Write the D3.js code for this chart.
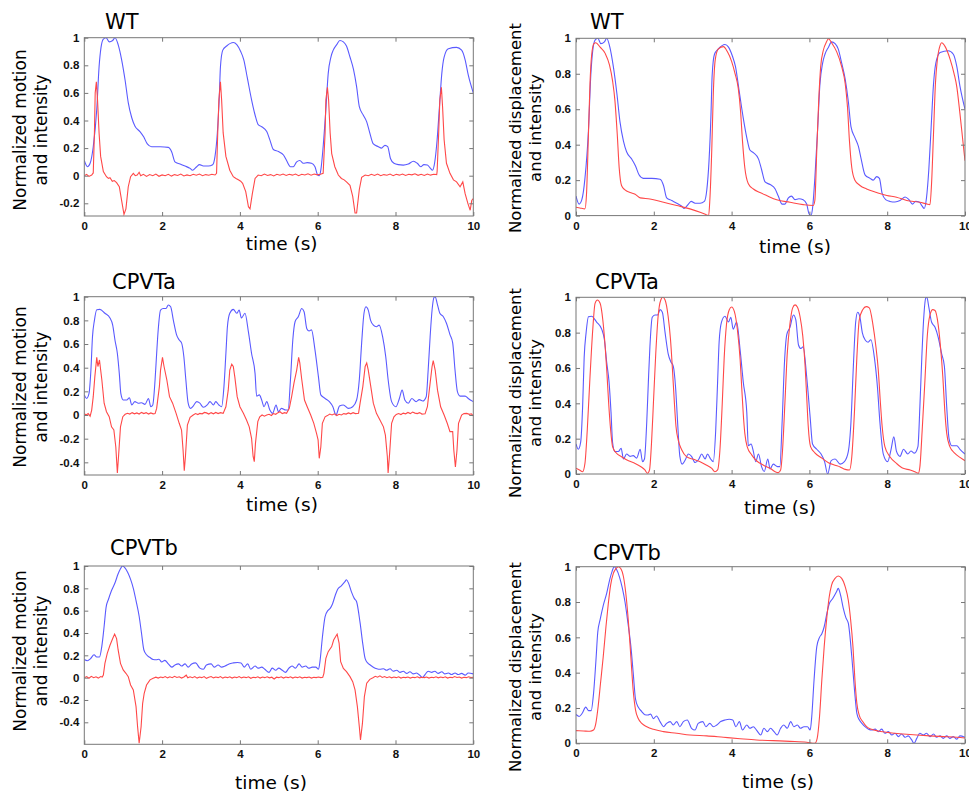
<!DOCTYPE html>
<html><head><meta charset="utf-8">
<script src="https://cdn.jsdelivr.net/npm/d3@7/dist/d3.min.js"></script>
<style>
html,body{margin:0;padding:0;background:#fff;}
svg{display:block;}
</style></head>
<body>
<script>
// ---------------- DATA ----------------
const timeTicks = [0, 2, 4, 6, 8, 10];
const yTicksWT = [-0.2, 0, 0.2, 0.4, 0.6, 0.8, 1];
const yTicksCPVT = [-0.4, -0.2, 0, 0.2, 0.4, 0.6, 0.8, 1];
const yTicksPos = [0, 0.2, 0.4, 0.6, 0.8, 1];
const titles = ["WT", "CPVTa", "CPVTb"];

// blue: normalized motion / displacement (same trace on left and right)
const wtMotion = [[0,0.11],[0.08,0.065],[0.15,0.09],[0.23,0.21],[0.32,0.48],[0.38,0.79],[0.43,0.93],[0.49,0.99],[0.56,1.0],[0.64,0.97],[0.73,0.98],[0.79,1.0],[0.87,0.95],[0.96,0.84],[1.05,0.69],[1.13,0.53],[1.22,0.42],[1.3,0.36],[1.43,0.32],[1.53,0.28],[1.62,0.23],[1.73,0.21],[1.95,0.21],[2.16,0.205],[2.25,0.17],[2.33,0.1],[2.46,0.085],[2.59,0.07],[2.72,0.053],[2.78,0.04],[2.89,0.065],[2.96,0.08],[3.06,0.07],[3.19,0.07],[3.3,0.08],[3.36,0.14],[3.42,0.31],[3.47,0.57],[3.5,0.79],[3.56,0.91],[3.66,0.94],[3.83,0.965],[3.92,0.95],[4.02,0.9],[4.1,0.84],[4.19,0.71],[4.3,0.55],[4.39,0.44],[4.47,0.37],[4.56,0.355],[4.69,0.32],[4.77,0.26],[4.86,0.19],[4.99,0.175],[5.12,0.15],[5.2,0.11],[5.3,0.065],[5.37,0.065],[5.46,0.1],[5.54,0.11],[5.63,0.09],[5.73,0.095],[5.84,0.09],[5.93,0.065],[5.99,0.01],[6.04,0.0],[6.08,0.04],[6.14,0.21],[6.21,0.48],[6.27,0.74],[6.34,0.86],[6.4,0.91],[6.49,0.95],[6.57,0.98],[6.66,0.97],[6.74,0.94],[6.83,0.86],[6.92,0.77],[7.0,0.645],[7.07,0.5],[7.17,0.44],[7.26,0.39],[7.33,0.32],[7.43,0.23],[7.56,0.21],[7.64,0.2],[7.73,0.22],[7.8,0.21],[7.87,0.125],[7.96,0.09],[8.07,0.08],[8.2,0.077],[8.33,0.085],[8.46,0.105],[8.56,0.09],[8.65,0.065],[8.73,0.08],[8.82,0.077],[8.9,0.053],[8.95,0.04],[9.01,0.1],[9.07,0.26],[9.13,0.5],[9.19,0.74],[9.25,0.86],[9.36,0.92],[9.57,0.93],[9.7,0.91],[9.79,0.84],[9.87,0.73],[10,0.6]];

const cpvtaMotion = [[0,0.17],[0.06,0.14],[0.12,0.18],[0.17,0.38],[0.21,0.66],[0.26,0.8],[0.32,0.89],[0.4,0.893],[0.53,0.86],[0.66,0.82],[0.73,0.76],[0.79,0.63],[0.85,0.52],[0.9,0.35],[0.94,0.18],[1.0,0.127],[1.09,0.127],[1.16,0.146],[1.22,0.085],[1.3,0.113],[1.39,0.1],[1.47,0.104],[1.56,0.09],[1.65,0.14],[1.71,0.07],[1.76,0.085],[1.82,0.3],[1.86,0.52],[1.9,0.72],[1.96,0.887],[2.03,0.9],[2.1,0.9],[2.16,0.93],[2.22,0.915],[2.29,0.8],[2.37,0.68],[2.44,0.634],[2.5,0.61],[2.56,0.49],[2.61,0.3],[2.67,0.1],[2.73,0.056],[2.8,0.076],[2.89,0.113],[2.97,0.1],[3.06,0.065],[3.16,0.085],[3.23,0.113],[3.32,0.085],[3.38,0.113],[3.46,0.085],[3.53,0.07],[3.59,0.24],[3.64,0.52],[3.68,0.75],[3.74,0.86],[3.83,0.893],[3.92,0.86],[3.98,0.887],[4.04,0.82],[4.13,0.86],[4.22,0.7],[4.3,0.52],[4.39,0.35],[4.43,0.16],[4.5,0.17],[4.56,0.127],[4.62,0.07],[4.69,0.113],[4.77,0.042],[4.84,0.014],[4.93,0.085],[4.99,0.028],[5.07,0.056],[5.18,0.042],[5.24,0.042],[5.3,0.3],[5.36,0.634],[5.42,0.79],[5.5,0.83],[5.59,0.9],[5.65,0.873],[5.72,0.73],[5.78,0.71],[5.84,0.72],[5.93,0.55],[6.02,0.32],[6.08,0.17],[6.19,0.14],[6.3,0.113],[6.39,0.07],[6.47,0.0],[6.56,0.076],[6.66,0.085],[6.79,0.056],[6.9,0.07],[7.0,0.127],[7.07,0.3],[7.13,0.61],[7.19,0.86],[7.24,0.915],[7.3,0.887],[7.36,0.8],[7.43,0.76],[7.51,0.746],[7.58,0.76],[7.67,0.66],[7.75,0.49],[7.81,0.3],[7.9,0.113],[8.01,0.07],[8.1,0.14],[8.17,0.21],[8.24,0.127],[8.33,0.1],[8.42,0.14],[8.53,0.113],[8.61,0.13],[8.7,0.118],[8.79,0.155],[8.84,0.38],[8.89,0.66],[8.94,0.887],[8.99,0.995],[9.02,1.0],[9.07,0.944],[9.14,0.86],[9.23,0.83],[9.31,0.775],[9.4,0.68],[9.47,0.61],[9.53,0.38],[9.59,0.2],[9.66,0.16],[9.79,0.16],[9.87,0.14],[10,0.113]];

const cpvtbMotion = [[0,0.163],[0.08,0.152],[0.16,0.17],[0.25,0.205],[0.32,0.185],[0.39,0.185],[0.45,0.28],[0.51,0.46],[0.56,0.63],[0.62,0.7],[0.7,0.78],[0.79,0.85],[0.87,0.93],[0.93,0.975],[0.98,1.0],[1.04,0.985],[1.12,0.94],[1.19,0.88],[1.26,0.8],[1.33,0.69],[1.41,0.55],[1.47,0.4],[1.53,0.25],[1.6,0.205],[1.69,0.18],[1.77,0.162],[1.85,0.16],[1.92,0.165],[1.99,0.14],[2.07,0.155],[2.16,0.123],[2.25,0.094],[2.33,0.113],[2.42,0.123],[2.5,0.104],[2.59,0.123],[2.67,0.094],[2.76,0.123],[2.86,0.132],[2.97,0.085],[3.06,0.075],[3.14,0.113],[3.26,0.123],[3.34,0.094],[3.44,0.113],[3.53,0.094],[3.62,0.104],[3.72,0.123],[3.83,0.132],[3.94,0.136],[4.03,0.132],[4.11,0.094],[4.2,0.123],[4.28,0.075],[4.39,0.104],[4.47,0.085],[4.56,0.094],[4.64,0.075],[4.75,0.047],[4.83,0.085],[4.92,0.066],[5.0,0.085],[5.09,0.066],[5.17,0.047],[5.26,0.085],[5.34,0.104],[5.43,0.085],[5.52,0.123],[5.6,0.094],[5.69,0.104],[5.77,0.085],[5.86,0.094],[5.95,0.094],[6.02,0.075],[6.06,0.15],[6.12,0.36],[6.19,0.547],[6.26,0.6],[6.32,0.62],[6.38,0.66],[6.45,0.736],[6.51,0.79],[6.6,0.82],[6.7,0.86],[6.74,0.877],[6.8,0.84],[6.87,0.766],[6.94,0.71],[7.0,0.68],[7.09,0.49],[7.16,0.3],[7.22,0.17],[7.29,0.13],[7.35,0.113],[7.43,0.094],[7.52,0.08],[7.6,0.075],[7.69,0.08],[7.77,0.066],[7.86,0.08],[7.94,0.057],[8.03,0.066],[8.12,0.047],[8.2,0.057],[8.29,0.038],[8.37,0.053],[8.46,0.034],[8.54,0.042],[8.63,0.019],[8.69,0.0],[8.76,0.028],[8.84,0.057],[8.93,0.047],[9.01,0.057],[9.1,0.038],[9.19,0.053],[9.27,0.034],[9.36,0.042],[9.44,0.028],[9.53,0.042],[9.61,0.028],[9.7,0.038],[9.79,0.023],[9.87,0.042],[10,0.034]];

// red, left column: rate of change of calcium intensity
const wtIntensityRate = [[0,0.0],[0.06,0.01],[0.12,-0.005],[0.19,0.005],[0.23,0.02],[0.26,0.31],[0.28,0.6],[0.31,0.68],[0.34,0.55],[0.38,0.31],[0.42,0.14],[0.49,0.03],[0.57,-0.007],[0.62,-0.02],[0.66,-0.015],[0.72,-0.04],[0.77,-0.035],[0.83,-0.05],[0.9,-0.08],[0.96,-0.18],[1.02,-0.28],[1.07,-0.24],[1.13,-0.08],[1.19,-0.007],[1.26,0.017],[1.31,0.0],[1.36,0.005],[1.41,0.025],[1.45,0.0],[1.52,0.01],[1.6,-0.005],[1.68,0.008],[1.76,0.0],[1.84,0.012],[1.92,-0.004],[2.0,0.006],[2.08,0.0],[2.16,0.01],[2.24,-0.003],[2.32,0.008],[2.4,0.002],[2.48,0.012],[2.56,-0.002],[2.64,0.006],[2.72,0.0],[2.8,0.01],[2.88,0.003],[2.96,0.012],[3.04,0.0],[3.12,0.008],[3.2,0.003],[3.28,0.01],[3.36,0.005],[3.4,0.017],[3.43,0.31],[3.46,0.55],[3.5,0.68],[3.53,0.55],[3.57,0.31],[3.64,0.14],[3.74,0.04],[3.83,-0.007],[3.9,-0.02],[3.96,-0.03],[4.02,-0.04],[4.07,-0.055],[4.15,-0.115],[4.22,-0.225],[4.26,-0.24],[4.32,-0.13],[4.39,-0.02],[4.47,0.005],[4.55,0.0],[4.63,0.012],[4.71,0.002],[4.79,0.008],[4.87,-0.002],[4.95,0.01],[5.03,0.003],[5.11,0.012],[5.19,0.002],[5.27,0.01],[5.35,0.004],[5.43,0.012],[5.51,0.0],[5.59,0.01],[5.67,0.005],[5.75,0.014],[5.83,0.004],[5.91,0.012],[5.99,0.006],[6.07,0.01],[6.14,0.017],[6.19,0.31],[6.21,0.55],[6.25,0.64],[6.28,0.55],[6.32,0.31],[6.36,0.16],[6.44,0.065],[6.53,0.005],[6.61,-0.02],[6.68,-0.03],[6.74,-0.045],[6.83,-0.07],[6.9,-0.15],[6.96,-0.27],[7.0,-0.27],[7.07,-0.1],[7.13,-0.012],[7.22,0.005],[7.3,0.0],[7.38,0.01],[7.46,0.002],[7.54,0.012],[7.62,0.0],[7.7,0.008],[7.78,0.003],[7.86,0.012],[7.94,0.0],[8.02,0.01],[8.1,0.004],[8.18,0.012],[8.26,0.002],[8.34,0.01],[8.42,0.006],[8.5,0.014],[8.58,0.003],[8.66,0.01],[8.74,0.002],[8.82,0.012],[8.9,0.004],[8.98,0.01],[9.06,0.008],[9.07,0.03],[9.11,0.31],[9.14,0.55],[9.18,0.64],[9.21,0.5],[9.25,0.26],[9.31,0.09],[9.4,0.017],[9.49,-0.03],[9.57,-0.045],[9.66,-0.08],[9.73,-0.045],[9.79,-0.13],[9.86,-0.2],[9.92,-0.25],[9.96,-0.18],[10,-0.165]];

const cpvtaIntensityRate = [[0,0.01],[0.05,0],[0.1,0.012],[0.15,-0.01],[0.19,0.042],[0.23,0.155],[0.27,0.32],[0.32,0.487],[0.35,0.41],[0.39,0.465],[0.45,0.3],[0.51,0.1],[0.57,0.028],[0.64,-0.014],[0.7,-0.1],[0.76,-0.127],[0.81,-0.27],[0.85,-0.49],[0.88,-0.35],[0.93,-0.1],[0.99,-0.014],[1.05,0.006],[1.11,0.015],[1.17,0.008],[1.23,0.02],[1.29,0.01],[1.35,0.018],[1.41,0.008],[1.47,0.022],[1.53,0.012],[1.59,0.02],[1.65,0.008],[1.71,0.018],[1.77,0.01],[1.82,0.012],[1.86,0.056],[1.93,0.24],[1.96,0.38],[2.01,0.487],[2.05,0.41],[2.12,0.3],[2.19,0.155],[2.27,0.1],[2.36,0.014],[2.44,-0.07],[2.5,-0.127],[2.54,-0.3],[2.57,-0.47],[2.6,-0.35],[2.65,-0.085],[2.72,-0.02],[2.8,0.0],[2.86,0.012],[2.92,0.004],[2.97,0.014],[3.03,0.01],[3.09,0.022],[3.14,0.018],[3.2,0.008],[3.26,0.02],[3.32,0.01],[3.38,0.022],[3.44,0.012],[3.5,0.02],[3.57,0.014],[3.64,0.07],[3.7,0.21],[3.74,0.38],[3.79,0.43],[3.83,0.41],[3.87,0.32],[3.93,0.155],[4.0,0.07],[4.09,0.014],[4.17,-0.042],[4.24,-0.1],[4.3,-0.197],[4.34,-0.35],[4.37,-0.394],[4.4,-0.24],[4.46,-0.056],[4.51,-0.015],[4.57,0.0],[4.63,-0.01],[4.69,0.0],[4.75,0.006],[4.81,-0.004],[4.86,0.012],[4.92,0.006],[4.98,0.02],[5.03,0.028],[5.09,0.012],[5.15,0.02],[5.2,0.014],[5.27,0.056],[5.33,0.155],[5.39,0.27],[5.46,0.38],[5.51,0.487],[5.54,0.44],[5.59,0.3],[5.66,0.127],[5.73,0.07],[5.82,0.0],[5.9,-0.07],[5.97,-0.155],[6.01,-0.21],[6.04,-0.366],[6.08,-0.27],[6.12,-0.07],[6.19,-0.015],[6.25,-0.005],[6.31,0.008],[6.37,0.0],[6.43,0.01],[6.49,-0.004],[6.55,0.006],[6.61,0.0],[6.67,0.012],[6.73,0.008],[6.79,0.018],[6.85,0.01],[6.91,0.02],[6.97,0.012],[7.05,0.014],[7.09,0.1],[7.16,0.24],[7.22,0.41],[7.26,0.44],[7.3,0.38],[7.36,0.25],[7.43,0.1],[7.51,0.014],[7.6,-0.042],[7.69,-0.1],[7.74,-0.17],[7.79,-0.35],[7.81,-0.49],[7.85,-0.32],[7.9,-0.07],[7.96,-0.015],[8.02,0.005],[8.08,0.012],[8.14,0.004],[8.2,0.016],[8.26,0.01],[8.32,0.022],[8.38,0.012],[8.44,0.025],[8.5,0.016],[8.56,0.012],[8.62,0.02],[8.68,0.008],[8.76,0.01],[8.82,0.07],[8.89,0.27],[8.94,0.41],[8.97,0.46],[9.02,0.38],[9.08,0.21],[9.16,0.07],[9.25,0.0],[9.33,-0.07],[9.4,-0.14],[9.47,-0.14],[9.5,-0.3],[9.54,-0.44],[9.58,-0.3],[9.62,-0.07],[9.7,0.0],[9.76,0.012],[9.83,0.014],[9.9,0.006],[9.95,0.01],[10,-0.008]];

const cpvtbIntensityRate = [[0,0],[0.06,0.01],[0.12,-0.005],[0.18,0.012],[0.24,0.0],[0.3,0.008],[0.36,-0.004],[0.42,0.01],[0.46,0.005],[0.49,0.024],[0.53,0.128],[0.59,0.218],[0.66,0.29],[0.73,0.35],[0.78,0.39],[0.83,0.35],[0.87,0.248],[0.93,0.128],[1.0,0.069],[1.07,0.039],[1.13,0.009],[1.19,-0.066],[1.26,-0.11],[1.33,-0.26],[1.37,-0.44],[1.41,-0.588],[1.46,-0.44],[1.5,-0.23],[1.54,-0.14],[1.6,-0.066],[1.69,-0.02],[1.77,-0.006],[1.84,0.004],[1.9,-0.004],[1.96,0.006],[2.02,0.0],[2.08,0.01],[2.14,-0.002],[2.2,0.008],[2.26,0.0],[2.32,0.012],[2.38,0.002],[2.44,0.008],[2.5,-0.004],[2.56,0.006],[2.62,0.022],[2.66,-0.002],[2.72,0.008],[2.78,0.0],[2.84,0.01],[2.9,-0.004],[2.96,0.006],[3.02,0.0],[3.08,0.01],[3.14,-0.006],[3.2,0.004],[3.26,0.01],[3.32,-0.002],[3.38,0.006],[3.44,0.0],[3.5,0.01],[3.56,-0.004],[3.62,0.006],[3.68,0.0],[3.74,0.008],[3.8,-0.004],[3.86,0.006],[3.92,0.0],[3.98,0.01],[4.04,-0.002],[4.1,0.006],[4.16,0.0],[4.22,0.008],[4.28,-0.006],[4.34,0.004],[4.4,0.0],[4.46,0.008],[4.52,-0.004],[4.58,0.006],[4.64,0.0],[4.7,0.008],[4.76,-0.002],[4.82,0.004],[4.88,-0.012],[4.94,0.004],[5.0,0.0],[5.06,0.008],[5.12,-0.004],[5.18,0.006],[5.24,0.0],[5.3,0.008],[5.36,-0.004],[5.42,0.006],[5.48,0.0],[5.54,0.008],[5.6,-0.004],[5.66,0.004],[5.72,0.0],[5.78,0.006],[5.84,-0.004],[5.9,0.004],[5.96,0.0],[6.02,0.006],[6.08,0.0],[6.13,0.004],[6.16,0.039],[6.21,0.173],[6.27,0.233],[6.36,0.278],[6.41,0.337],[6.47,0.373],[6.5,0.39],[6.55,0.31],[6.59,0.143],[6.66,0.083],[6.74,0.054],[6.83,0.009],[6.9,-0.036],[6.96,-0.11],[7.02,-0.26],[7.07,-0.44],[7.1,-0.558],[7.15,-0.41],[7.2,-0.17],[7.26,-0.05],[7.34,-0.015],[7.42,0.0],[7.48,0.012],[7.54,0.004],[7.6,0.016],[7.66,0.002],[7.72,0.01],[7.78,0.0],[7.84,0.008],[7.9,-0.002],[7.96,0.006],[8.02,0.0],[8.08,0.008],[8.14,-0.004],[8.2,0.004],[8.26,0.0],[8.32,0.006],[8.38,-0.004],[8.44,0.004],[8.5,0.0],[8.56,0.008],[8.62,-0.002],[8.68,0.004],[8.74,0.0],[8.8,0.006],[8.86,-0.004],[8.92,0.004],[8.98,0.0],[9.04,0.008],[9.1,-0.002],[9.16,0.006],[9.22,0.0],[9.28,0.008],[9.34,-0.004],[9.4,0.004],[9.46,0.0],[9.52,0.01],[9.58,0.002],[9.64,0.006],[9.7,-0.004],[9.76,0.004],[9.82,0.0],[9.88,0.008],[9.94,0.002],[10,0.004]];

// red, right column: normalized calcium intensity
const wtIntensity = [[0,0.047],[0.1,0.043],[0.23,0.038],[0.27,0.12],[0.32,0.46],[0.36,0.745],[0.4,0.9],[0.46,0.97],[0.51,0.975],[0.62,0.95],[0.75,0.915],[0.86,0.85],[0.94,0.76],[1.0,0.65],[1.06,0.46],[1.11,0.27],[1.17,0.17],[1.26,0.145],[1.39,0.13],[1.52,0.12],[1.65,0.1],[1.9,0.094],[2.25,0.075],[2.59,0.057],[2.93,0.038],[3.19,0.019],[3.36,0.004],[3.41,0.0],[3.44,0.085],[3.49,0.37],[3.53,0.69],[3.58,0.88],[3.66,0.94],[3.79,0.953],[3.89,0.925],[4.0,0.87],[4.09,0.8],[4.17,0.72],[4.23,0.59],[4.28,0.42],[4.34,0.27],[4.43,0.18],[4.56,0.15],[4.73,0.13],[4.9,0.113],[5.16,0.089],[5.5,0.075],[5.84,0.062],[6.1,0.057],[6.14,0.085],[6.19,0.37],[6.24,0.65],[6.29,0.84],[6.36,0.934],[6.44,0.98],[6.49,0.998],[6.57,0.975],[6.7,0.925],[6.83,0.84],[6.92,0.745],[6.98,0.61],[7.03,0.42],[7.09,0.27],[7.17,0.2],[7.3,0.17],[7.47,0.15],[7.73,0.13],[7.99,0.113],[8.24,0.104],[8.5,0.085],[8.84,0.075],[9.01,0.066],[9.1,0.062],[9.14,0.18],[9.19,0.46],[9.24,0.745],[9.29,0.88],[9.36,0.96],[9.4,0.975],[9.49,0.953],[9.62,0.88],[9.72,0.8],[9.79,0.725],[9.87,0.575],[9.96,0.39],[10,0.31]];

const cpvtaIntensity = [[0,0.032],[0.09,0.023],[0.17,0.013],[0.23,0.06],[0.29,0.25],[0.36,0.55],[0.43,0.815],[0.49,0.966],[0.55,0.985],[0.62,0.966],[0.69,0.87],[0.75,0.72],[0.79,0.59],[0.84,0.4],[0.89,0.25],[0.94,0.155],[1.03,0.12],[1.17,0.098],[1.35,0.075],[1.52,0.06],[1.69,0.038],[1.77,0.023],[1.84,0.004],[1.89,0.023],[1.94,0.17],[1.99,0.4],[2.05,0.68],[2.11,0.89],[2.18,0.985],[2.23,1.0],[2.29,0.985],[2.37,0.89],[2.43,0.76],[2.48,0.59],[2.53,0.4],[2.57,0.27],[2.63,0.19],[2.72,0.136],[2.84,0.098],[3.02,0.083],[3.19,0.07],[3.36,0.05],[3.49,0.032],[3.57,0.013],[3.64,0.023],[3.7,0.136],[3.76,0.4],[3.81,0.66],[3.87,0.85],[3.94,0.93],[4.0,0.945],[4.07,0.92],[4.15,0.815],[4.22,0.645],[4.26,0.49],[4.3,0.34],[4.34,0.23],[4.4,0.155],[4.52,0.107],[4.64,0.075],[4.82,0.05],[4.99,0.032],[5.12,0.013],[5.2,0.008],[5.26,0.023],[5.31,0.136],[5.37,0.4],[5.43,0.68],[5.5,0.85],[5.57,0.94],[5.63,0.957],[5.69,0.945],[5.76,0.89],[5.83,0.78],[5.89,0.61],[5.93,0.44],[5.97,0.27],[6.03,0.155],[6.14,0.12],[6.32,0.09],[6.49,0.064],[6.66,0.05],[6.79,0.04],[6.92,0.026],[7.03,0.023],[7.09,0.098],[7.16,0.36],[7.22,0.66],[7.28,0.87],[7.37,0.93],[7.46,0.947],[7.54,0.94],[7.63,0.85],[7.71,0.72],[7.77,0.59],[7.82,0.42],[7.87,0.27],[7.94,0.155],[8.07,0.098],[8.24,0.06],[8.41,0.032],[8.59,0.023],[8.71,0.013],[8.8,0.004],[8.84,0.04],[8.9,0.25],[8.97,0.53],[9.03,0.78],[9.1,0.9],[9.17,0.93],[9.23,0.925],[9.31,0.845],[9.37,0.72],[9.43,0.55],[9.48,0.36],[9.53,0.23],[9.61,0.155],[9.74,0.117],[9.87,0.094],[10,0.075]];

const cpvtbIntensity = [[0,0.072],[0.19,0.07],[0.36,0.068],[0.45,0.075],[0.51,0.113],[0.57,0.21],[0.63,0.34],[0.7,0.49],[0.77,0.66],[0.83,0.79],[0.89,0.896],[0.96,0.962],[1.03,0.99],[1.09,1.0],[1.15,0.99],[1.22,0.943],[1.29,0.83],[1.35,0.68],[1.41,0.49],[1.47,0.3],[1.53,0.189],[1.6,0.14],[1.69,0.113],[1.82,0.094],[1.99,0.079],[2.25,0.066],[2.59,0.057],[2.93,0.047],[3.36,0.042],[3.79,0.034],[4.22,0.026],[4.64,0.019],[5.07,0.015],[5.5,0.011],[5.93,0.006],[6.14,0.0],[6.2,0.028],[6.26,0.15],[6.32,0.36],[6.38,0.547],[6.45,0.717],[6.51,0.83],[6.57,0.896],[6.66,0.934],[6.74,0.947],[6.83,0.934],[6.92,0.887],[7.0,0.81],[7.06,0.7],[7.12,0.547],[7.17,0.36],[7.22,0.226],[7.28,0.16],[7.37,0.123],[7.47,0.094],[7.6,0.079],[7.77,0.07],[8.07,0.06],[8.41,0.053],[8.76,0.047],[9.1,0.042],[9.44,0.038],[9.79,0.034],[10,0.03]];

// ---------------- LAYOUT ----------------
const W = 969, H = 793;
const svg = d3.select("body").append("svg").attr("width", W).attr("height", H);
const BLUE = "#5a5aff", RED = "#ff4848";
const fmt = d => String(Math.round(d * 10) / 10);

const panels = [
  {title: titles[0], blue: wtMotion, red: wtIntensityRate, redCurve: d3.curveLinear, yDomain: [-0.292, 1], yTicks: yTicksWT,
   x0: 84.3, x1: 473.3, y0: 37.7, y1: 216, tx: 105, ty: 29, lx: 281.7, ly: 250,
   yl: ["Normalized motion", "and intensity"], ylx: [26, 47], yly: 130, ylfs: 17},
  {title: titles[0], blue: wtMotion, red: wtIntensity, redCurve: d3.curveMonotoneX, yDomain: [0, 1], yTicks: yTicksPos,
   x0: 576, x1: 965, y0: 38.3, y1: 215.6, tx: 590, ty: 29, lx: 795, ly: 253,
   yl: ["Normalized displacement", "and intensity"], ylx: [521, 541], yly: 128, ylfs: 16.5},
  {title: titles[1], blue: cpvtaMotion, red: cpvtaIntensityRate, redCurve: d3.curveLinear, yDomain: [-0.507, 1], yTicks: yTicksCPVT,
   x0: 84.3, x1: 473.3, y0: 296.7, y1: 475, tx: 112, ty: 289, lx: 282, ly: 511,
   yl: ["Normalized motion", "and intensity"], ylx: [26, 47], yly: 387, ylfs: 17},
  {title: titles[1], blue: cpvtaMotion, red: cpvtaIntensity, redCurve: d3.curveMonotoneX, yDomain: [0, 1], yTicks: yTicksPos,
   x0: 576, x1: 965, y0: 297.3, y1: 474, tx: 595, ty: 289, lx: 780, ly: 514,
   yl: ["Normalized displacement", "and intensity"], ylx: [521, 541], yly: 393, ylfs: 16.5},
  {title: titles[2], blue: cpvtbMotion, red: cpvtbIntensityRate, redCurve: d3.curveLinear, yDomain: [-0.597, 1], yTicks: yTicksCPVT,
   x0: 84.3, x1: 473.3, y0: 566, y1: 744.3, tx: 110, ty: 555, lx: 271, ly: 789,
   yl: ["Normalized motion", "and intensity"], ylx: [26, 47], yly: 651, ylfs: 17},
  {title: titles[2], blue: cpvtbMotion, red: cpvtbIntensity, redCurve: d3.curveMonotoneX, yDomain: [0, 1], yTicks: yTicksPos,
   x0: 576, x1: 965, y0: 566.7, y1: 743.3, tx: 593, ty: 560, lx: 778, ly: 788,
   yl: ["Normalized displacement", "and intensity"], ylx: [521, 541], yly: 667, ylfs: 16.5}
];

const defs = svg.append("defs");

panels.forEach((p, i) => {
  const x = d3.scaleLinear().domain([0, 10]).range([p.x0, p.x1]);
  const y = d3.scaleLinear().domain(p.yDomain).range([p.y1, p.y0]);

  defs.append("clipPath").attr("id", "clip" + i)
    .append("rect").attr("x", p.x0).attr("y", p.y0).attr("width", p.x1 - p.x0).attr("height", p.y1 - p.y0);

  const plot = svg.append("g").attr("clip-path", `url(#clip${i})`);
  const lineB = d3.line().x(d => x(d[0])).y(d => y(d[1])).curve(d3.curveMonotoneX);
  const lineR = d3.line().x(d => x(d[0])).y(d => y(d[1])).curve(p.redCurve);
  plot.append("path").datum(p.blue).attr("d", lineB).attr("fill", "none").attr("stroke", BLUE).attr("stroke-width", 1.1);
  plot.append("path").datum(p.red).attr("d", lineR).attr("fill", "none").attr("stroke", RED).attr("stroke-width", 1.1);

  const axisStyle = g => {
    g.select(".domain").remove();
    g.selectAll(".tick line").attr("stroke", "#777").attr("stroke-width", 1);
    g.selectAll(".tick text").attr("fill", "#111").style("font-family", "'Liberation Sans', Arial, sans-serif")
      .style("font-size", "11.5px").style("font-weight", "bold");
  };
  svg.append("g").attr("transform", `translate(0,${p.y1})`)
    .call(d3.axisBottom(x).tickValues(timeTicks).tickFormat(fmt).tickSize(-4).tickPadding(6)).call(axisStyle);
  svg.append("g").attr("transform", `translate(0,${p.y0})`)
    .call(d3.axisTop(x).tickValues(timeTicks).tickFormat("").tickSize(-4)).call(axisStyle);
  svg.append("g").attr("transform", `translate(${p.x0},0)`)
    .call(d3.axisLeft(y).tickValues(p.yTicks).tickFormat(fmt).tickSize(-4).tickPadding(5)).call(axisStyle);
  svg.append("g").attr("transform", `translate(${p.x1},0)`)
    .call(d3.axisRight(y).tickValues(p.yTicks).tickFormat("").tickSize(-4)).call(axisStyle);

  svg.append("rect").attr("x", p.x0).attr("y", p.y0).attr("width", p.x1 - p.x0).attr("height", p.y1 - p.y0)
    .attr("fill", "none").attr("stroke", "#777").attr("stroke-width", 1);

  svg.append("text").attr("x", p.tx).attr("y", p.ty).text(p.title)
    .style("font-family", "'DejaVu Sans', Verdana, sans-serif").style("font-size", "21px").attr("fill", "#000");

  svg.append("text").attr("x", p.lx).attr("y", p.ly).attr("text-anchor", "middle").text("time (s)")
    .style("font-family", "'DejaVu Sans', Verdana, sans-serif").style("font-size", "18.5px").attr("fill", "#000");

  p.yl.forEach((t, k) => {
    svg.append("text").attr("transform", `translate(${p.ylx[k]},${p.yly}) rotate(-90)`)
      .attr("text-anchor", "middle").text(t)
      .style("font-family", "'DejaVu Sans', Verdana, sans-serif").style("font-size", p.ylfs + "px").attr("fill", "#000");
  });
});
</script>
</body></html>
